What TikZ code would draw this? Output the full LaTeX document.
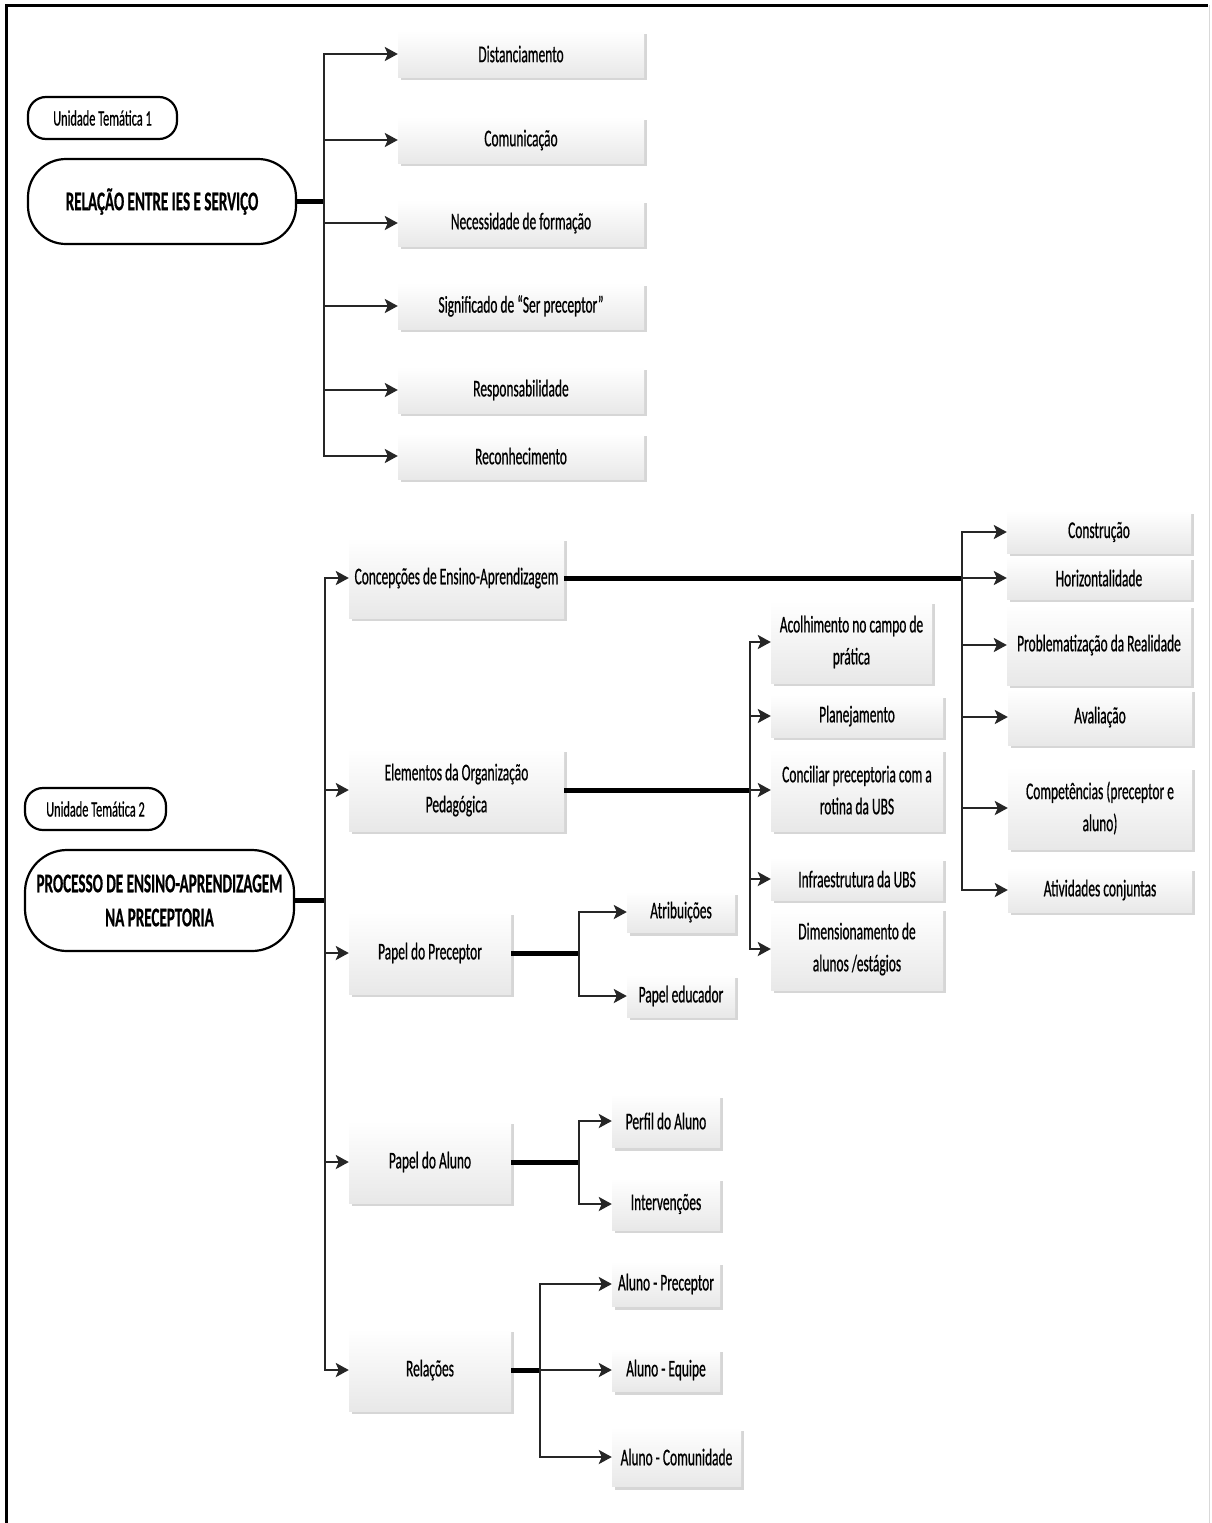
\documentclass[tikz,border=0pt]{standalone}
\usepackage{fontspec}
\setmainfont{Carlito}[FakeStretch=0.56, FakeBold=0.6]
\usetikzlibrary{arrows.meta,shadows,calc}

\tikzset{
  box/.style={rectangle, inner sep=0pt, top color=white, bottom color=black!9,
    general shadow={fill=black!16, shadow xshift=2.5pt, shadow yshift=-3pt},
    font=\fontsize{24}{32}\selectfont, align=center},
  theme/.style={draw=black, line width=2.2pt, fill=white, inner sep=0pt, align=center},
  conn/.style={draw=black!85, line width=2.8pt, -{Stealth[length=13pt,width=14pt,inset=3pt]}},
  heavy/.style={draw=black, line width=5pt},
}

\begin{document}
\begin{tikzpicture}[x=1pt,y=-1pt]
\useasboundingbox (0,0) rectangle (1211,1523);

% page frame
\draw[line width=3pt] (6,1523) -- (6,5) -- (1208,5);
\draw[black!15, line width=1.5pt] (1209.5,5) -- (1209.5,1523);

% ---------- thematic unit 1 ----------
\node[theme, rounded corners=18pt, minimum width=149pt, minimum height=42pt,
      font=\fontsize{22}{26}\selectfont] (ut1) at (102.5,118) {Unidade Temática 1};
\node[theme, rounded corners=38pt, minimum width=268pt, minimum height=85pt,
      font=\fontsize{27}{33}\selectfont\bfseries] (rel) at (162,201.5) {RELAÇÃO ENTRE IES E SERVIÇO};

\node[box, minimum width=246pt, minimum height=46pt] (dist)  at (521,54)  {Distanciamento};
\node[box, minimum width=246pt, minimum height=46pt] (com)   at (521,140) {Comunicação};
\node[box, minimum width=246pt, minimum height=46pt] (nec)   at (521,223) {Necessidade de formação};
\node[box, minimum width=246pt, minimum height=46pt] (sig)   at (521,306) {Significado de “Ser preceptor”};
\node[box, minimum width=246pt, minimum height=46pt] (resp)  at (521,390) {Responsabilidade};
\node[box, minimum width=246pt, minimum height=46pt] (recon) at (521,456) {Reconhecimento};

\coordinate (ta) at (324,201.5);
\draw[heavy] (rel.east) -- (ta);
\foreach \n in {dist,com,nec,sig,resp,recon}
  \draw[conn] (ta) |- (\n.west);

% ---------- thematic unit 2 ----------
\node[theme, rounded corners=18pt, minimum width=141pt, minimum height=42pt,
      font=\fontsize{22}{26}\selectfont] (ut2) at (95.5,809) {Unidade Temática 2};
\node[theme, rounded corners=42pt, minimum width=269pt, minimum height=101pt,
      font=\fontsize{27}{34}\selectfont\bfseries] (proc) at (159.5,900.5)
      {PROCESSO DE ENSINO-APRENDIZAGEM\\NA PRECEPTORIA};

% categories
\node[box, minimum width=215pt, minimum height=80pt] (conc)   at (456.5,578)  {Concepções de Ensino-Aprendizagem};
\node[box, minimum width=215pt, minimum height=82pt] (elem)   at (456.5,790)  {Elementos da Organização\\Pedagógica};
\node[box, minimum width=162pt, minimum height=82pt] (pprec)  at (430,953)    {Papel do Preceptor};
\node[box, minimum width=162pt, minimum height=82pt] (paluno) at (430,1162)   {Papel do Aluno};
\node[box, minimum width=162pt, minimum height=82pt] (relc)   at (430,1370)   {Relações};

\coordinate (tb) at (325,900.5);
\draw[heavy] (proc.east) -- (tb);
\foreach \n in {conc,elem,pprec,paluno,relc}
  \draw[conn] (tb) |- (\n.west);

% conceptions of teaching-learning
\node[box, minimum width=184pt, minimum height=42pt] (cons)  at (1099,532) {Construção};
\node[box, minimum width=184pt, minimum height=42pt] (horiz) at (1099,578) {Horizontalidade};
\node[box, minimum width=184pt, minimum height=80pt] (prob)  at (1099,645) {Problematização da Realidade};
\node[box, minimum width=184pt, minimum height=56pt] (aval)  at (1100,717) {Avaliação};
\node[box, minimum width=184pt, minimum height=82pt] (compt) at (1100,808) {Competências (preceptor e\\aluno)};
\node[box, minimum width=184pt, minimum height=44pt] (ativ)  at (1100,890) {Atividades conjuntas};

\coordinate (tc) at (962,578);
\draw[heavy] (conc.east) -- (tc);
\foreach \n in {cons,horiz,prob,aval,compt,ativ}
  \draw[conn] (tc) |- (\n.west);

% pedagogical organisation
\node[box, minimum width=161pt, minimum height=82pt] (acol)  at (851.5,642) {Acolhimento no campo de\\prática};
\node[box, minimum width=172pt, minimum height=42pt] (plan)  at (857,716)   {Planejamento};
\node[box, minimum width=172pt, minimum height=82pt] (conci) at (857,790)   {Conciliar preceptoria com a\\rotina da UBS};
\node[box, minimum width=172pt, minimum height=42pt] (infra) at (857,879)   {Infraestrutura da UBS};
\node[box, minimum width=172pt, minimum height=82pt] (dimen) at (857,949)   {Dimensionamento de\\alunos /estágios};

\coordinate (te) at (750,790);
\draw[heavy] (elem.east) -- (te);
\foreach \n in {acol,plan,conci,infra,dimen}
  \draw[conn] (te) |- (\n.west);

% preceptor role
\node[box, minimum width=108pt, minimum height=41pt] (atr)  at (681,912) {Atribuições};
\node[box, minimum width=108pt, minimum height=42pt] (pedu) at (681,996) {Papel educador};

\coordinate (tp) at (579,953);
\draw[heavy] (pprec.east) -- (tp);
\foreach \n in {atr,pedu}
  \draw[conn] (tp) |- (\n.west);

% student role
\node[box, minimum width=108pt, minimum height=53pt] (perf)   at (666,1121) {Perfil do Aluno};
\node[box, minimum width=108pt, minimum height=52pt] (interv) at (666,1204) {Intervenções};

\coordinate (tal) at (579,1162);
\draw[heavy] (paluno.east) -- (tal);
\foreach \n in {perf,interv}
  \draw[conn] (tal) |- (\n.west);

% relations
\node[box, minimum width=108pt, minimum height=45pt] (alp) at (666,1284)   {Aluno - Preceptor};
\node[box, minimum width=108pt, minimum height=43pt] (ale) at (666,1370)   {Aluno - Equipe};
\node[box, minimum width=129pt, minimum height=59pt] (alc) at (676.5,1457) {Aluno - Comunidade};

\coordinate (tr) at (540,1370);
\draw[heavy] (relc.east) -- (tr);
\foreach \n in {alp,ale,alc}
  \draw[conn] (tr) |- (\n.west);

\end{tikzpicture}
\end{document}
